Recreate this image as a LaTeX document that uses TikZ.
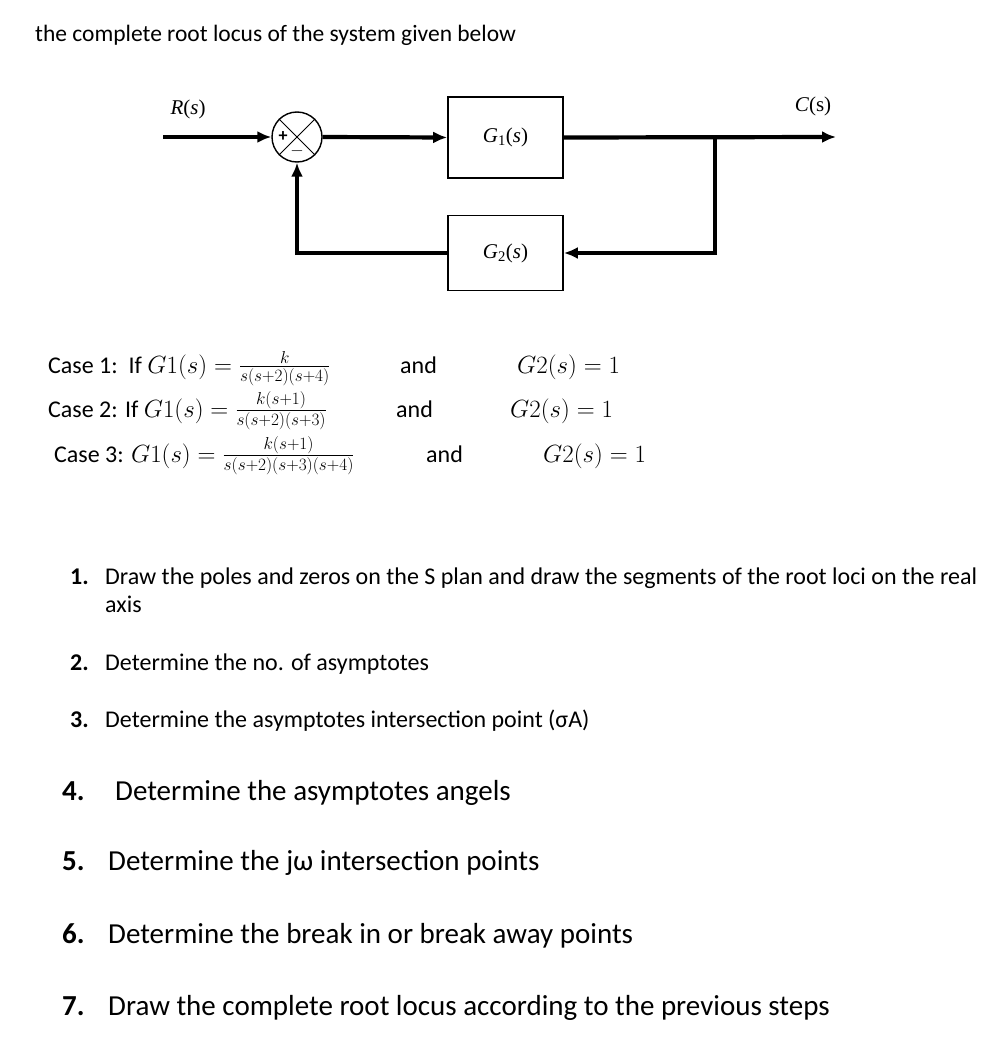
\documentclass[tikz,border=0pt]{standalone}
\usepackage{fontspec}
\usepackage{amsmath}
\setmainfont{Carlito}
\newfontfamily\serifblk{Liberation Serif}
\usetikzlibrary{arrows.meta}
\begin{document}
\begin{tikzpicture}[x=1pt,y=-1pt,
  thick line/.style={line width=4.2pt},
  arr/.style={thick line,-{Latex[length=14pt,width=12pt]}},
  blk/.style={draw,line width=1.6pt,minimum width=115pt,inner sep=0pt},
  txt/.style={anchor=base west,inner sep=0pt,font=\fontsize{24}{28}\selectfont},
  big/.style={anchor=base west,inner sep=0pt,font=\fontsize{29}{34}\selectfont}]
\useasboundingbox (0,0) rectangle (998,1041);
\node[anchor=base west,inner sep=0pt,font=\fontsize{23.5}{28}\selectfont] (title) at (35,42) {the complete root locus of the system given below};
% block diagram
\node[anchor=base,inner sep=0pt,font=\serifblk\fontsize{21}{22}\selectfont] (R) at (188,114) {\textit{R}(\textit{s})};
\node[anchor=base,inner sep=0pt,font=\serifblk\fontsize{21}{22}\selectfont] (C) at (813,111) {\textit{C}(s)};
\node[draw,line width=1.4pt,circle,inner sep=0pt,minimum size=50pt] (sum) at (297,137) {};
\draw[line width=0.8pt] (sum.north west) -- (sum.south east) (sum.north east) -- (sum.south west);
\node[font=\bfseries\fontsize{18}{18}\selectfont,inner sep=0pt] (plus) at (283,137) {+};
\node[font=\bfseries\fontsize{18}{18}\selectfont,inner sep=0pt] (minus) at (297,151) {$-$};
\node[blk,minimum height=81pt] (G1) at (505.5,137.5) {\serifblk\fontsize{21}{22}\selectfont\textit{G}\textsubscript{1}(\textit{s})};
\node[blk,minimum height=75pt] (G2) at (505.5,253) {\serifblk\fontsize{21}{22}\selectfont\textit{G}\textsubscript{2}(\textit{s})};
\coordinate (in) at (163,137);
\coordinate (out) at (836,137);
\coordinate (br) at (715,137);
\coordinate (brd) at (715,253);
\draw[arr] (in) -- (sum.west);
\draw[arr] (sum.east) -- (G1.west);
\draw[arr] (G1.east) -- (out);
\draw[thick line] (br) -- (brd);
\draw[arr] (717.1,253) -- (G2.east);
\draw[thick line] (G2.west) -- (294.9,253);
\draw[arr] (297,255.1) -- (sum.south);
% cases
\node[txt] (c1) at (48,373) {Case 1:\ \ If $G1(s)=\frac{k}{s(s+2)(s+4)}$};
\node[txt] (a1) at (400,373) {and};
\node[txt] (g1) at (517,373) {$G2(s)=1$};
\node[txt] (c2) at (48,417) {Case 2: If $G1(s)=\frac{k(s+1)}{s(s+2)(s+3)}$};
\node[txt] (a2) at (396,417) {and};
\node[txt] (g2) at (510,417) {$G2(s)=1$};
\node[txt] (c3) at (54,462) {Case 3: $G1(s)=\frac{k(s+1)}{s(s+2)(s+3)(s+4)}$};
\node[txt] (a3) at (426,462) {and};
\node[txt] (g3) at (543,462) {$G2(s)=1$};
% steps
\node[txt] (n1) at (70,584) {\textbf{1.}};
\node[txt] (s1) at (105,584) {Draw the poles and zeros on the S plan and draw the segments of the root loci on the real};
\node[txt] (s1b) at (105,612) {axis};
\node[txt] (n2) at (70,670) {\textbf{2.}};
\node[txt] (s2) at (105,670) {Determine the no. of asymptotes};
\node[txt] (n3) at (70,727) {\textbf{3.}};
\node[txt] (s3) at (105,727) {Determine the asymptotes intersection point (σA)};
\node[big] (n4) at (62,800) {\textbf{4.}};
\node[big] (s4) at (115,800) {Determine the asymptotes angels};
\node[big] (n5) at (62,870) {\textbf{5.}};
\node[big] (s5) at (108,870) {Determine the jω intersection points};
\node[big] (n6) at (62,943) {\textbf{6.}};
\node[big] (s6) at (108,943) {Determine the break in or break away points};
\node[big] (n7) at (62,1015) {\textbf{7.}};
\node[big] (s7) at (108,1015) {Draw the complete root locus according to the previous steps};
\end{tikzpicture}
\end{document}
